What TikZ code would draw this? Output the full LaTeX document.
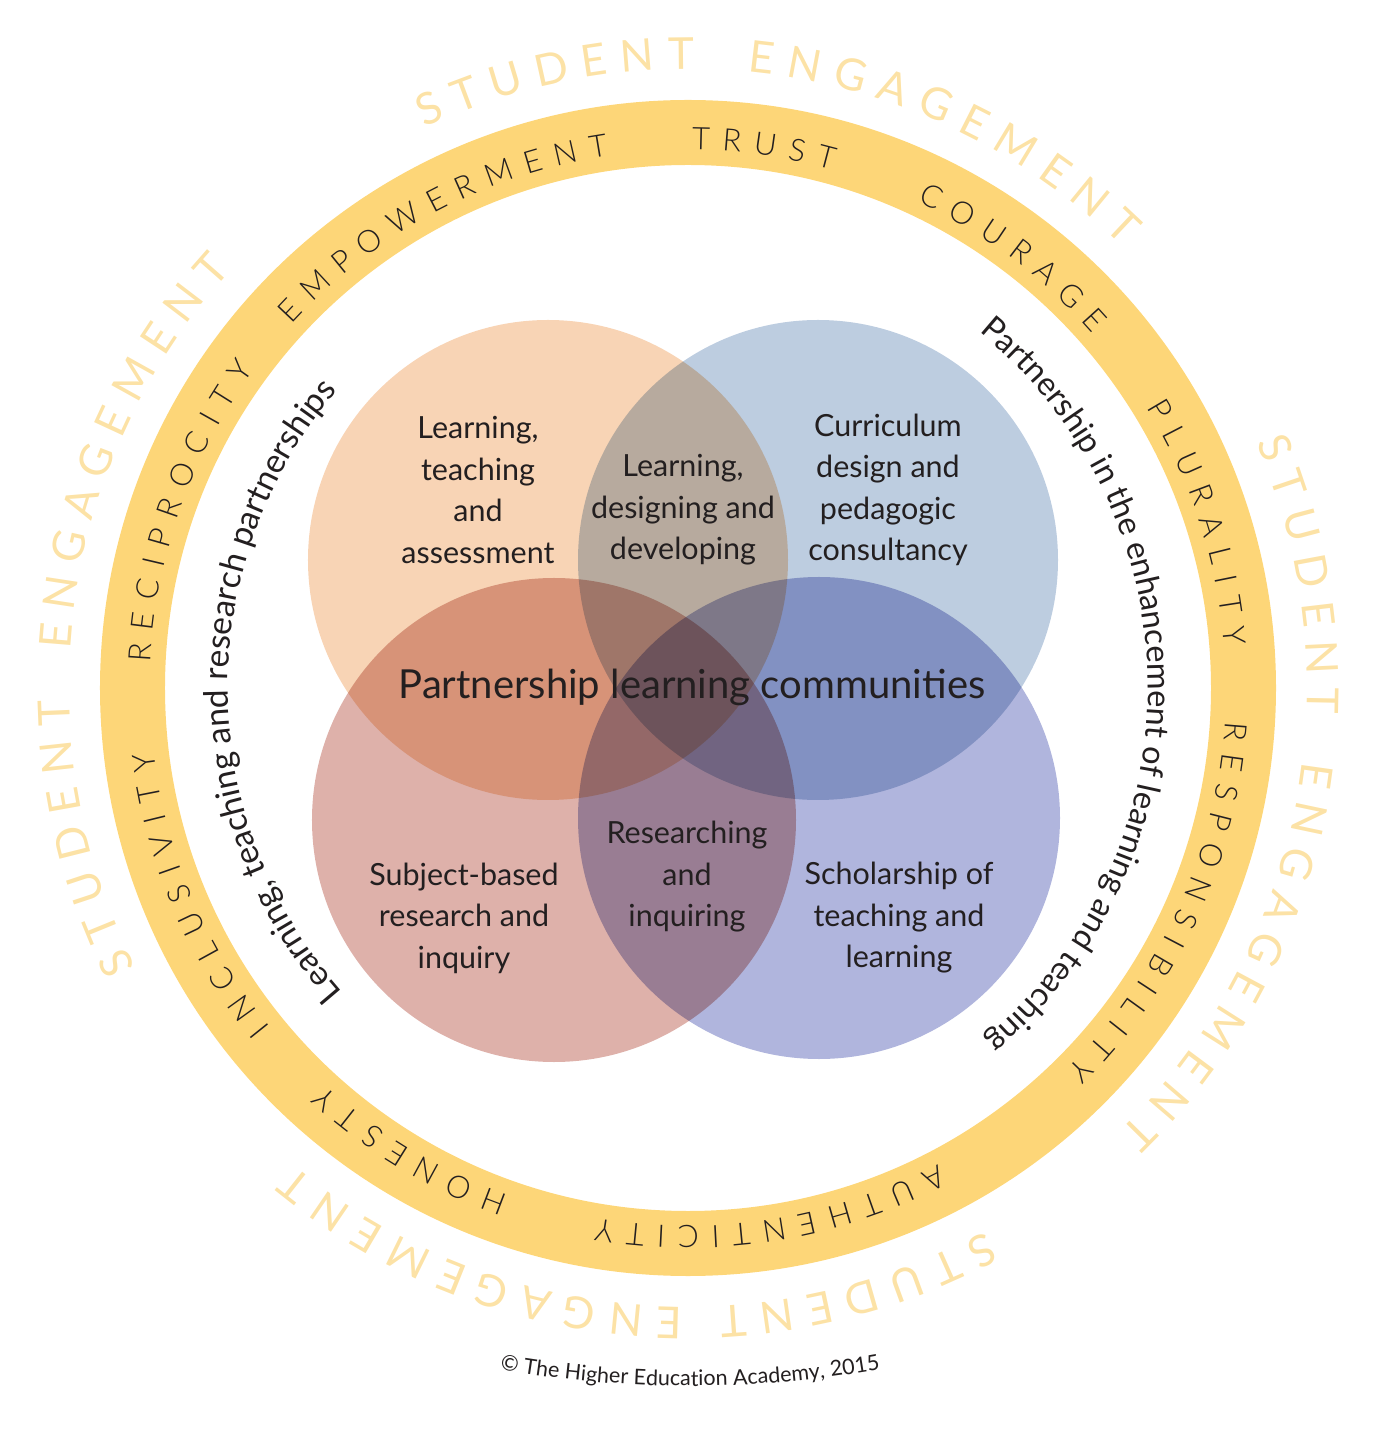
\documentclass[tikz,border=0pt]{standalone}
\usepackage{fontspec}
\setmainfont{Lato}
\newfontfamily\trackfont{Lato Light}[WordSpace=1.45]
\newfontfamily\spreadfont{Lato}[WordSpace=1.15]
\usetikzlibrary{decorations.text}
\definecolor{ink}{HTML}{231F20}
\definecolor{ringgold}{HTML}{FDD678}
\definecolor{palegold}{HTML}{FCE2A6}
\definecolor{peach}{HTML}{F8D4B5}
\definecolor{skyblue}{HTML}{BDCDE0}
\definecolor{dustyrose}{HTML}{DEB1AA}
\definecolor{lavender}{HTML}{B0B5DD}
\tikzset{
  venn/.style={circle,minimum size=480pt,inner sep=0pt},
  venntext/.style={align=center,text=ink,font=\fontsize{30.5}{41.5}\selectfont},
}
% radius, centre angle, half span, format, text (clockwise, tops outward)
\newcommand{\arcword}[5]{%
  \path[decorate,decoration={text along path,text align=center,text={|#4|#5}}]
    (#2+#3:#1) arc[start angle=#2+#3,end angle=#2-#3,radius=#1];}
\newcommand{\valuefmt}{\trackfont\fontsize{31}{36}\selectfont\color{ink}}
\newcommand{\engagefmt}{\spreadfont\fontsize{44}{54}\selectfont\color{palegold}}
\newcommand{\themefmt}{\fontsize{32.5}{38}\selectfont\color{ink}}

\begin{document}
\begin{tikzpicture}[x=1pt,y=1pt]
\useasboundingbox (-688,-743) rectangle (690,688);
% ring
\draw[ringgold,line width=65pt] (0,0) circle[radius=555.5];
% venn circles
\begin{scope}[blend group=multiply]
  \node[venn,fill=peach] (teach) at (-140,128) {};
  \node[venn,fill=skyblue] (design) at (130,128) {};
  \node[venn,fill=dustyrose,minimum size=484pt] (research) at (-134,-132) {};
  \node[venn,fill=lavender,minimum size=482pt] (scholar) at (131,-130) {};
\end{scope}
\node[venntext] (teachtxt) at (-210,198) {Learning,\\teaching\\and\\assessment};
\node[venntext] (designtxt) at (200,198) {Curriculum\\design and\\pedagogic\\consultancy};
\node[venntext] (devtxt) at (-5,178) {Learning,\\designing and\\developing};
\node[venntext] (researchtxt) at (-224,-230) {Subject-based\\research and\\inquiry};
\node[venntext] (inquiretxt) at (-1,-189) {Researching\\and\\inquiring};
\node[venntext] (scholartxt) at (211,-230) {Scholarship of\\teaching and\\learning};
\node[text=ink,font=\fontsize{40}{48}\selectfont] (plc) at (4,1) {Partnership learning communities};
% values in the ring
\arcword{538}{118}{30}{\valuefmt}{E M P O W E R M E N T}
\arcword{538}{82}{30}{\valuefmt}{T R U S T}
\arcword{538}{53}{30}{\valuefmt}{C O U R A G E}
\arcword{538}{18}{30}{\valuefmt}{P L U R A L I T Y}
\arcword{538}{-24.4}{30}{\valuefmt}{R E S P O N S I B I L I T Y}
\arcword{538}{-81}{30}{\valuefmt}{A U T H E N T I C I T Y}
\arcword{538}{-121}{30}{\valuefmt}{H O N E S T Y}
\arcword{538}{203}{30}{\valuefmt}{I N C L U S I V I T Y}
\arcword{538}{160.5}{30}{\valuefmt}{R E C I P R O C I T Y}
% student engagement
\arcword{619}{102.3}{30}{\engagefmt}{S T U D E N T}
\arcword{619}{65}{30}{\engagefmt}{E N G A G E M E N T}
\arcword{619}{10.5}{30}{\engagefmt}{S T U D E N T}
\arcword{619}{-26.3}{30}{\engagefmt}{E N G A G E M E N T}
\arcword{619}{-74.2}{30}{\engagefmt}{S T U D E N T}
\arcword{619}{-110}{30}{\engagefmt}{E N G A G E M E N T}
\arcword{619}{194}{30}{\engagefmt}{S T U D E N T}
\arcword{619}{157}{30}{\engagefmt}{E N G A G E M E N T}
% partnership themes
\arcword{460}{0.5}{70}{\themefmt}{Partnership in the enhancement of learning and teaching}
\arcword{460}{180.5}{70}{\themefmt\fontsize{33.5}{38}\selectfont}{Learning, teaching and research partnerships}
% copyright
\path[decorate,decoration={text along path,text align=center,
    text={|\fontsize{21.5}{25}\selectfont\color{ink}|© The Higher Education Academy, 2015}}]
  ([shift={(2,392)}]-102:1090) arc[start angle=-102,end angle=-78,radius=1090];
\end{tikzpicture}
\end{document}
